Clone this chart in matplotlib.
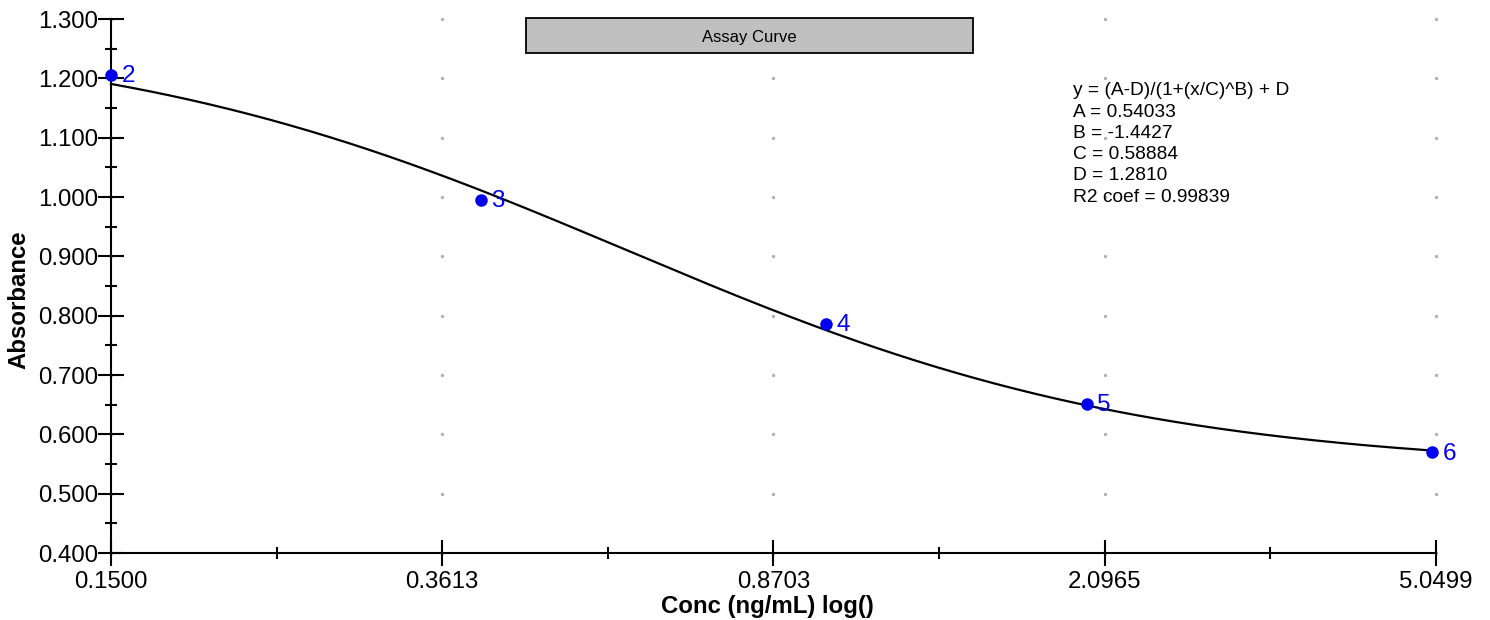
"""
Assay standard curve plot
=========================
Four-parameter logistic fit of absorbance vs. concentration (log x-axis).
"""

import numpy as np
import matplotlib
matplotlib.use("Agg")
import matplotlib.pyplot as plt
from matplotlib.patches import Rectangle

# Standards
conc = [0.15, 0.4, 1.0, 2.0, 5.0]
absorbance = [1.206, 0.995, 0.786, 0.651, 0.570]
point_labels = ["2", "3", "4", "5", "6"]

# 4PL fit parameters as reported
fit_A = 0.54033
fit_B = -1.4427
fit_C = 0.58884
fit_D = 1.2810
fit_r2 = 0.99839

# Axis ticks
x_ticks = [0.1500, 0.3613, 0.8703, 2.0965, 5.0499]
x_tick_labels = ["0.1500", "0.3613", "0.8703", "2.0965", "5.0499"]
y_ticks = [0.4, 0.5, 0.6, 0.7, 0.8, 0.9, 1.0, 1.1, 1.2, 1.3]

FONT = "Liberation Sans"


def four_pl(x, A, B, C, D):
    """y = (A-D)/(1+(x/C)^B) + D"""
    return (A - D) / (1 + (x / C) ** B) + D


def plot_assay_curve():
    plt.rcParams["font.family"] = [FONT, "DejaVu Sans"]

    fig = plt.figure(figsize=(14.9, 6.2), dpi=100)
    ax = fig.add_axes([111 / 1490, 1 - 553 / 620, 1325 / 1490, 534 / 620])

    ax.set_xscale("log")
    ax.set_xlim(x_ticks[0], x_ticks[-1])
    ax.set_ylim(y_ticks[0], y_ticks[-1])

    # Dotted grid: one dot at each major tick intersection
    gx, gy = np.meshgrid(x_ticks, y_ticks)
    ax.plot(gx.ravel(), gy.ravel(), ls="none", marker="o", ms=2.4,
            color="#b0b0b0", mec="none", zorder=1, clip_on=False)

    # Fitted curve
    xs = np.geomspace(conc[0], conc[-1], 400)
    ax.plot(xs, four_pl(xs, fit_A, fit_B, fit_C, fit_D),
            color="black", lw=1.6, zorder=3, clip_on=False)

    # Standards
    ax.plot(conc, absorbance, ls="none", marker="o", ms=8,
            color="#0000ee", zorder=4, clip_on=False)
    for x, y, lab in zip(conc, absorbance, point_labels):
        ax.annotate(lab, (x, y), xytext=(7.5, -1), textcoords="offset points",
                    ha="left", va="center", fontsize=17.5, color="#0000ee")

    # Axes styling
    for side in ("top", "right"):
        ax.spines[side].set_visible(False)
    for side in ("left", "bottom"):
        ax.spines[side].set_linewidth(1.5)

    ax.xaxis.set_major_locator(plt.FixedLocator(x_ticks))
    ax.xaxis.set_major_formatter(plt.FixedFormatter(x_tick_labels))
    minor_x = [np.sqrt(a * b) for a, b in zip(x_ticks[:-1], x_ticks[1:])]
    ax.xaxis.set_minor_locator(plt.FixedLocator(minor_x))
    ax.xaxis.set_minor_formatter(plt.NullFormatter())

    ax.yaxis.set_major_locator(plt.FixedLocator(y_ticks))
    ax.yaxis.set_major_formatter(plt.FuncFormatter(lambda v, p: f"{v:.3f}"))
    minor_y = [(a + b) / 2 for a, b in zip(y_ticks[:-1], y_ticks[1:])]
    ax.yaxis.set_minor_locator(plt.FixedLocator(minor_y))

    ax.tick_params(which="major", direction="inout", length=19, width=1.5,
                   labelsize=17.3, color="black")
    ax.tick_params(which="minor", direction="inout", length=9, width=1.5)
    ax.tick_params(axis="x", which="major", pad=3.5)
    ax.tick_params(axis="y", which="major", pad=0)

    # Title box
    ax.add_patch(Rectangle((0.3132, 0.936), 0.3374, 0.066, transform=ax.transAxes,
                           facecolor="#c0c0c0", edgecolor="black", lw=1.3,
                           clip_on=False, zorder=5))
    ax.text(0.4819, 0.966, "Assay Curve", transform=ax.transAxes,
            ha="center", va="center", fontsize=12, zorder=6)

    # Fit summary
    eq = (f"y = (A-D)/(1+(x/C)^B) + D\n"
          f"A = {fit_A:.5f}\n"
          f"B = {fit_B:.4f}\n"
          f"C = {fit_C:.5f}\n"
          f"D = {fit_D:.4f}\n"
          f"R2 coef = {fit_r2:.5f}")
    ax.text(0.726, 0.8815, eq, transform=ax.transAxes, ha="left", va="top",
            fontsize=13.8, linespacing=1.33, zorder=6)

    # Axis titles
    fig.text(19 / 1490, 1 - 300 / 620, "Absorbance", rotation=90,
             ha="center", va="center", fontsize=17.3, fontweight="bold")
    fig.text(767 / 1490, 1 - 607 / 620, "Conc (ng/mL) log()",
             ha="center", va="center", fontsize=17.3, fontweight="bold")

    fig.savefig("out.png", dpi=100)


if __name__ == "__main__":
    plot_assay_curve()
